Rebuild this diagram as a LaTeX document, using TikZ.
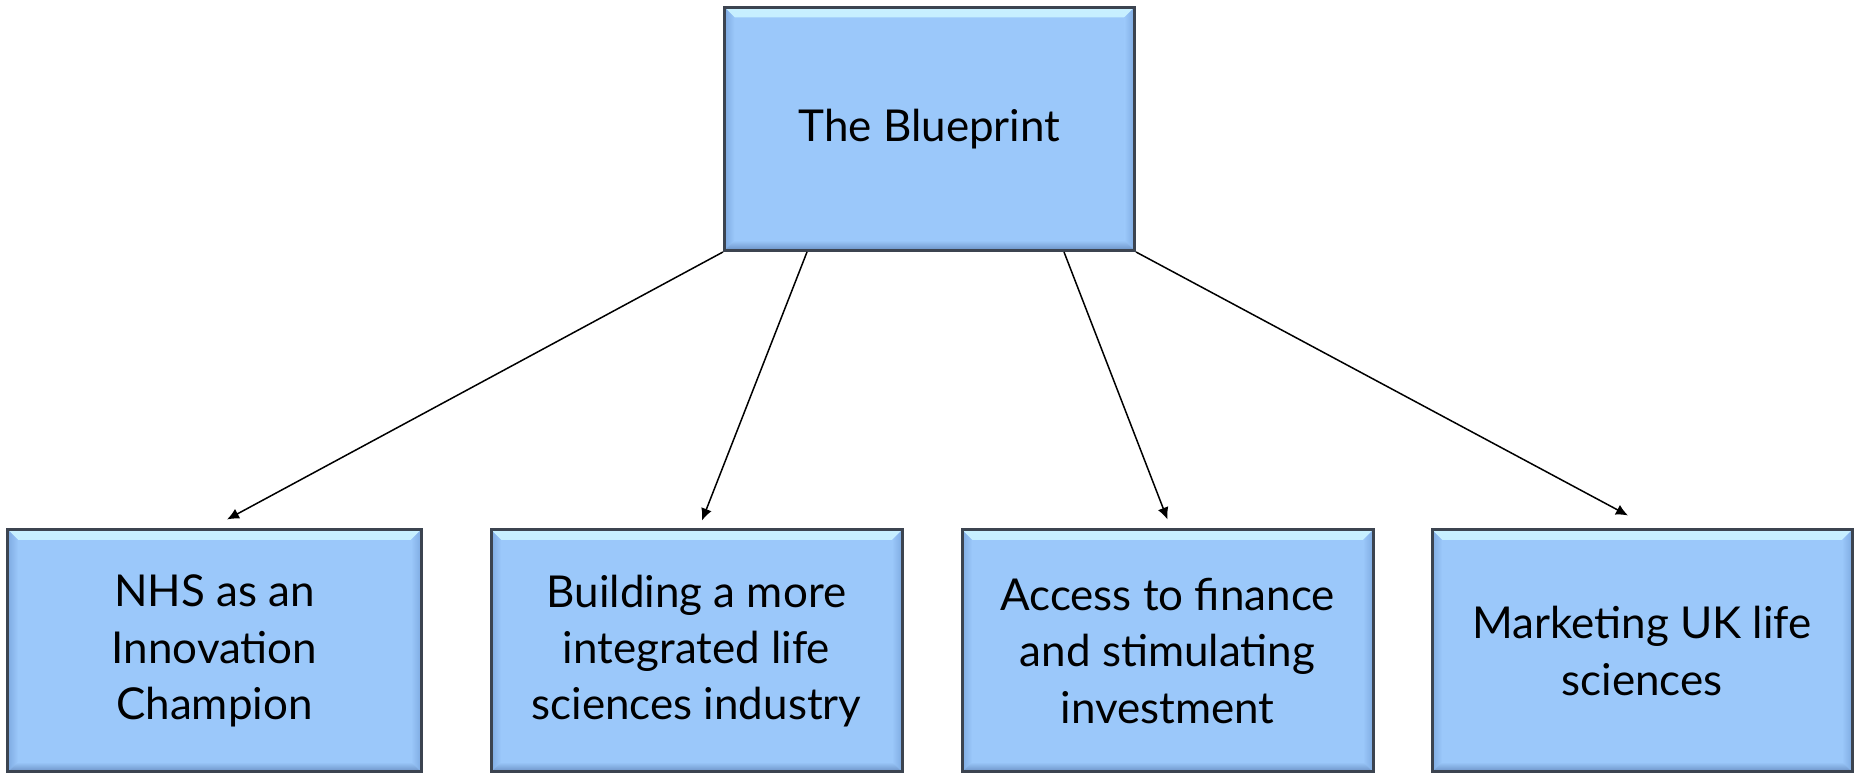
\documentclass[tikz,border=0pt]{standalone}
\usepackage{fontspec}
\setmainfont{Lato}
\usetikzlibrary{arrows.meta}
\definecolor{boxfill}{HTML}{9BC8FA}
\definecolor{boxtop}{HTML}{C8F0FF}
\definecolor{boxside}{HTML}{7FABE2}
\definecolor{boxbottom}{HTML}{6A90C4}
\definecolor{boxedge}{HTML}{3C4450}
\tikzset{
	bluebox/.style={draw=boxedge, line width=0.6mm, fill=boxfill, align=center,
		font=\fontsize{25}{32}\selectfont, inner sep=0pt,
		path picture={
			\shade[top color=boxtop, bottom color=boxfill] (path picture bounding box.north west) -- (path picture bounding box.north east)
				-- ([xshift=-0.2cm,yshift=-0.2cm]path picture bounding box.north east)
				-- ([xshift=0.2cm,yshift=-0.2cm]path picture bounding box.north west) -- cycle;
			\shade[left color=boxside, right color=boxfill] (path picture bounding box.north west) -- ([xshift=0.2cm,yshift=-0.2cm]path picture bounding box.north west)
				-- ([xshift=0.2cm,yshift=0.2cm]path picture bounding box.south west) -- (path picture bounding box.south west) -- cycle;
			\shade[left color=boxfill, right color=boxside] (path picture bounding box.north east) -- ([xshift=-0.2cm,yshift=-0.2cm]path picture bounding box.north east)
				-- ([xshift=-0.2cm,yshift=0.2cm]path picture bounding box.south east) -- (path picture bounding box.south east) -- cycle;
			\shade[top color=boxfill, bottom color=boxbottom] (path picture bounding box.south west) -- (path picture bounding box.south east)
				-- ([xshift=-0.2cm,yshift=0.2cm]path picture bounding box.south east)
				-- ([xshift=0.2cm,yshift=0.2cm]path picture bounding box.south west) -- cycle;
		}},
	link/.style={line width=0.3mm, -{Latex[length=0.24cm,width=0.22cm]}}
}

\begin{document}
\begin{tikzpicture}
		%%%%% START %%%%%
		
		\useasboundingbox (0, 0) rectangle (37.12, 15.48);
		
		\node[bluebox, minimum width=8.2cm, minimum height=4.86cm] (blueprint) at (18.59, 12.9) {The Blueprint};
		
		\node[bluebox, minimum width=8.26cm, minimum height=4.84cm] (nhs) at (4.29, 2.46) {NHS as an\\Innovation\\Champion};
		\node[bluebox, minimum width=8.22cm, minimum height=4.84cm] (industry) at (13.93, 2.46) {Building a more\\integrated life\\sciences industry};
		\node[bluebox, minimum width=8.22cm, minimum height=4.84cm] (finance) at (23.35, 2.46) {Access to finance\\and stimulating\\investment};
		\node[bluebox, minimum width=8.4cm, minimum height=4.84cm] (marketing) at (32.84, 2.46) {Marketing UK life\\sciences};
		
		\coordinate (t1) at ([xshift=0.25cm, yshift=0.18cm]nhs.north);
		\coordinate (t2) at ([xshift=0.11cm, yshift=0.16cm]industry.north);
		\coordinate (t3) at ([yshift=0.18cm]finance.north);
		\coordinate (t4) at ([xshift=-0.28cm, yshift=0.26cm]marketing.north);
		
		\draw[link] (blueprint.south west) -- (t1);
		\draw[link] ([xshift=1.68cm]blueprint.south west) -- (t2);
		\draw[link] ([xshift=-1.44cm]blueprint.south east) -- (t3);
		\draw[link] (blueprint.south east) -- (t4);
		
		%%%%% END %%%%%
\end{tikzpicture}
\end{document}
